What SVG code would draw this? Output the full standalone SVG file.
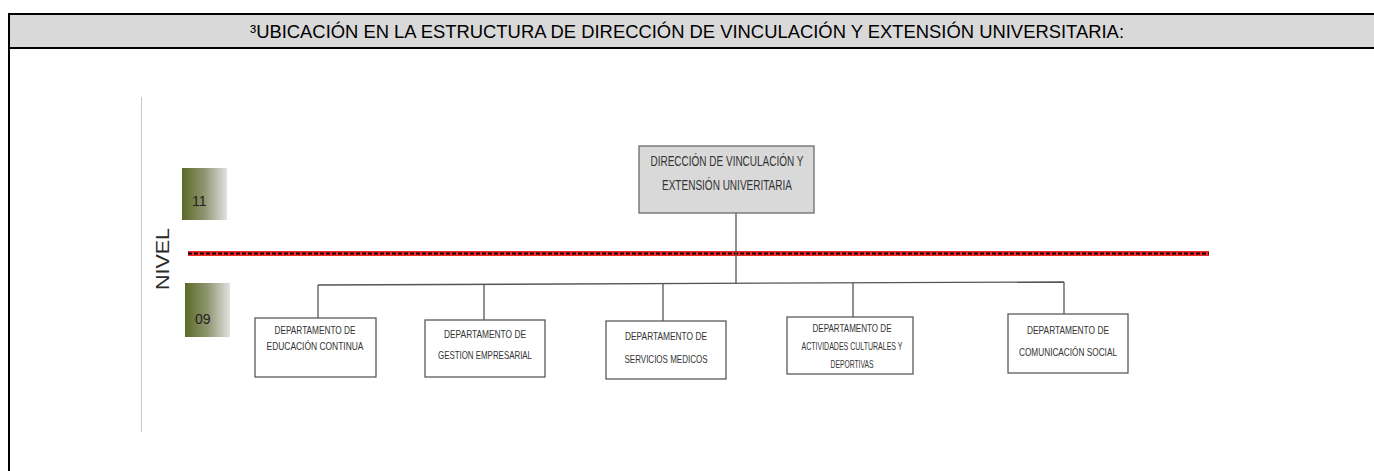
<svg xmlns="http://www.w3.org/2000/svg" width="1374" height="471" viewBox="0 0 1374 471">
  <defs>
    <linearGradient id="lvl" x1="0" y1="0" x2="1" y2="0">
      <stop offset="0" stop-color="#5b6a28"/>
      <stop offset="0.5" stop-color="#8f9670"/>
      <stop offset="1" stop-color="#e2e2e2"/>
    </linearGradient>
    <style>
      .dept { fill: #ffffff; stroke: #5a5a5a; stroke-width: 1.3; }
      .dt { font-family: "Liberation Sans", Arial, sans-serif; font-size: 11.5px; fill: #333333; text-anchor: middle; }
      .tt { font-family: "Liberation Sans", Arial, sans-serif; font-size: 14px; fill: #333333; text-anchor: middle; }
      .conn { stroke: #555555; stroke-width: 1.3; fill: none; }
      .lv { font-family: "Liberation Sans", Arial, sans-serif; font-size: 14px; fill: #222222; }
    </style>
  </defs>
  <rect width="1374" height="471" fill="#ffffff"/>

  <!-- Frame / header -->
  <g id="header">
    <rect x="9" y="14" width="1380" height="34" fill="#d9d9d9" stroke="#000000" stroke-width="2"/>
    <line x1="9" y1="14" x2="9" y2="471" stroke="#000000" stroke-width="2"/>
    <text x="687" y="38" font-family="Liberation Sans, Arial, sans-serif" font-size="18.5" fill="#000000" text-anchor="middle" textLength="874" lengthAdjust="spacingAndGlyphs">³UBICACIÓN EN LA ESTRUCTURA DE DIRECCIÓN DE VINCULACIÓN Y EXTENSIÓN UNIVERSITARIA:</text>
  </g>

  <!-- Level axis -->
  <g id="levels">
    <line x1="141.5" y1="97" x2="141.5" y2="432" stroke="#c8c8c8" stroke-width="1"/>
    <text transform="translate(169,259) rotate(-90)" font-family="Liberation Sans, Arial, sans-serif" font-size="18" fill="#2a2a2a" text-anchor="middle" textLength="62" lengthAdjust="spacingAndGlyphs">NIVEL</text>
    <g id="level11">
      <rect x="182" y="168" width="45" height="52" fill="url(#lvl)"/>
      <text x="192" y="206" class="lv">11</text>
    </g>
    <g id="level09">
      <rect x="185" y="283" width="45" height="54" fill="url(#lvl)"/>
      <text x="195" y="324" class="lv">09</text>
    </g>
  </g>

  <!-- Red dashed divider -->
  <g id="divider">
    <line x1="188" y1="253.5" x2="1209" y2="253.5" stroke="#ee2a2a" stroke-width="5"/>
    <line x1="188" y1="253.5" x2="1209" y2="253.5" stroke="#1a0000" stroke-width="2" stroke-dasharray="4 2"/>
  </g>

  <!-- Connectors -->
  <g id="connectors">
    <line class="conn" x1="736" y1="213" x2="736" y2="283.5"/>
    <line class="conn" x1="318" y1="285" x2="1064" y2="282"/>
    <line class="conn" x1="318" y1="285" x2="318" y2="318"/>
    <line class="conn" x1="484" y1="284.3" x2="484" y2="320"/>
    <line class="conn" x1="663" y1="283.6" x2="663" y2="321"/>
    <line class="conn" x1="853" y1="282.8" x2="853" y2="317"/>
    <line class="conn" x1="1064" y1="282" x2="1064" y2="314"/>
  </g>

  <!-- Top node -->
  <g id="direccion">
    <rect x="639" y="146" width="175" height="67" fill="#d9d9d9" stroke="#6a6a6a" stroke-width="1.3"/>
    <text class="tt" x="727" y="166" textLength="153" lengthAdjust="spacingAndGlyphs">DIRECCIÓN DE VINCULACIÓN Y</text>
    <text class="tt" x="727" y="190" textLength="130" lengthAdjust="spacingAndGlyphs">EXTENSIÓN UNIVERITARIA</text>
  </g>

  <g id="dep-educacion">
    <rect class="dept" x="255" y="318" width="121" height="59"/>
    <text class="dt" x="315" y="334" textLength="81" lengthAdjust="spacingAndGlyphs">DEPARTAMENTO DE</text>
    <text class="dt" x="315" y="350" textLength="97" lengthAdjust="spacingAndGlyphs">EDUCACIÓN CONTINUA</text>
  </g>

  <g id="dep-gestion">
    <rect class="dept" x="425" y="320" width="120" height="57"/>
    <text class="dt" x="485" y="338" textLength="82" lengthAdjust="spacingAndGlyphs">DEPARTAMENTO DE</text>
    <text class="dt" x="485" y="359" textLength="94" lengthAdjust="spacingAndGlyphs">GESTION EMPRESARIAL</text>
  </g>

  <g id="dep-servicios">
    <rect class="dept" x="606" y="321" width="120" height="58"/>
    <text class="dt" x="666" y="340" textLength="82" lengthAdjust="spacingAndGlyphs">DEPARTAMENTO DE</text>
    <text class="dt" x="666" y="363" textLength="83" lengthAdjust="spacingAndGlyphs">SERVICIOS MEDICOS</text>
  </g>

  <g id="dep-actividades">
    <rect class="dept" x="787" y="317" width="126" height="57"/>
    <text class="dt" x="852" y="332" textLength="79" lengthAdjust="spacingAndGlyphs">DEPARTAMENTO DE</text>
    <text class="dt" x="852" y="350" textLength="101" lengthAdjust="spacingAndGlyphs">ACTIVIDADES CULTURALES Y</text>
    <text class="dt" x="852" y="368" textLength="43" lengthAdjust="spacingAndGlyphs">DEPORTIVAS</text>
  </g>

  <g id="dep-comunicacion">
    <rect class="dept" x="1008" y="314" width="120" height="59"/>
    <text class="dt" x="1068" y="334" textLength="82" lengthAdjust="spacingAndGlyphs">DEPARTAMENTO DE</text>
    <text class="dt" x="1068" y="356" textLength="98" lengthAdjust="spacingAndGlyphs">COMUNICACIÓN SOCIAL</text>
  </g>
</svg>
